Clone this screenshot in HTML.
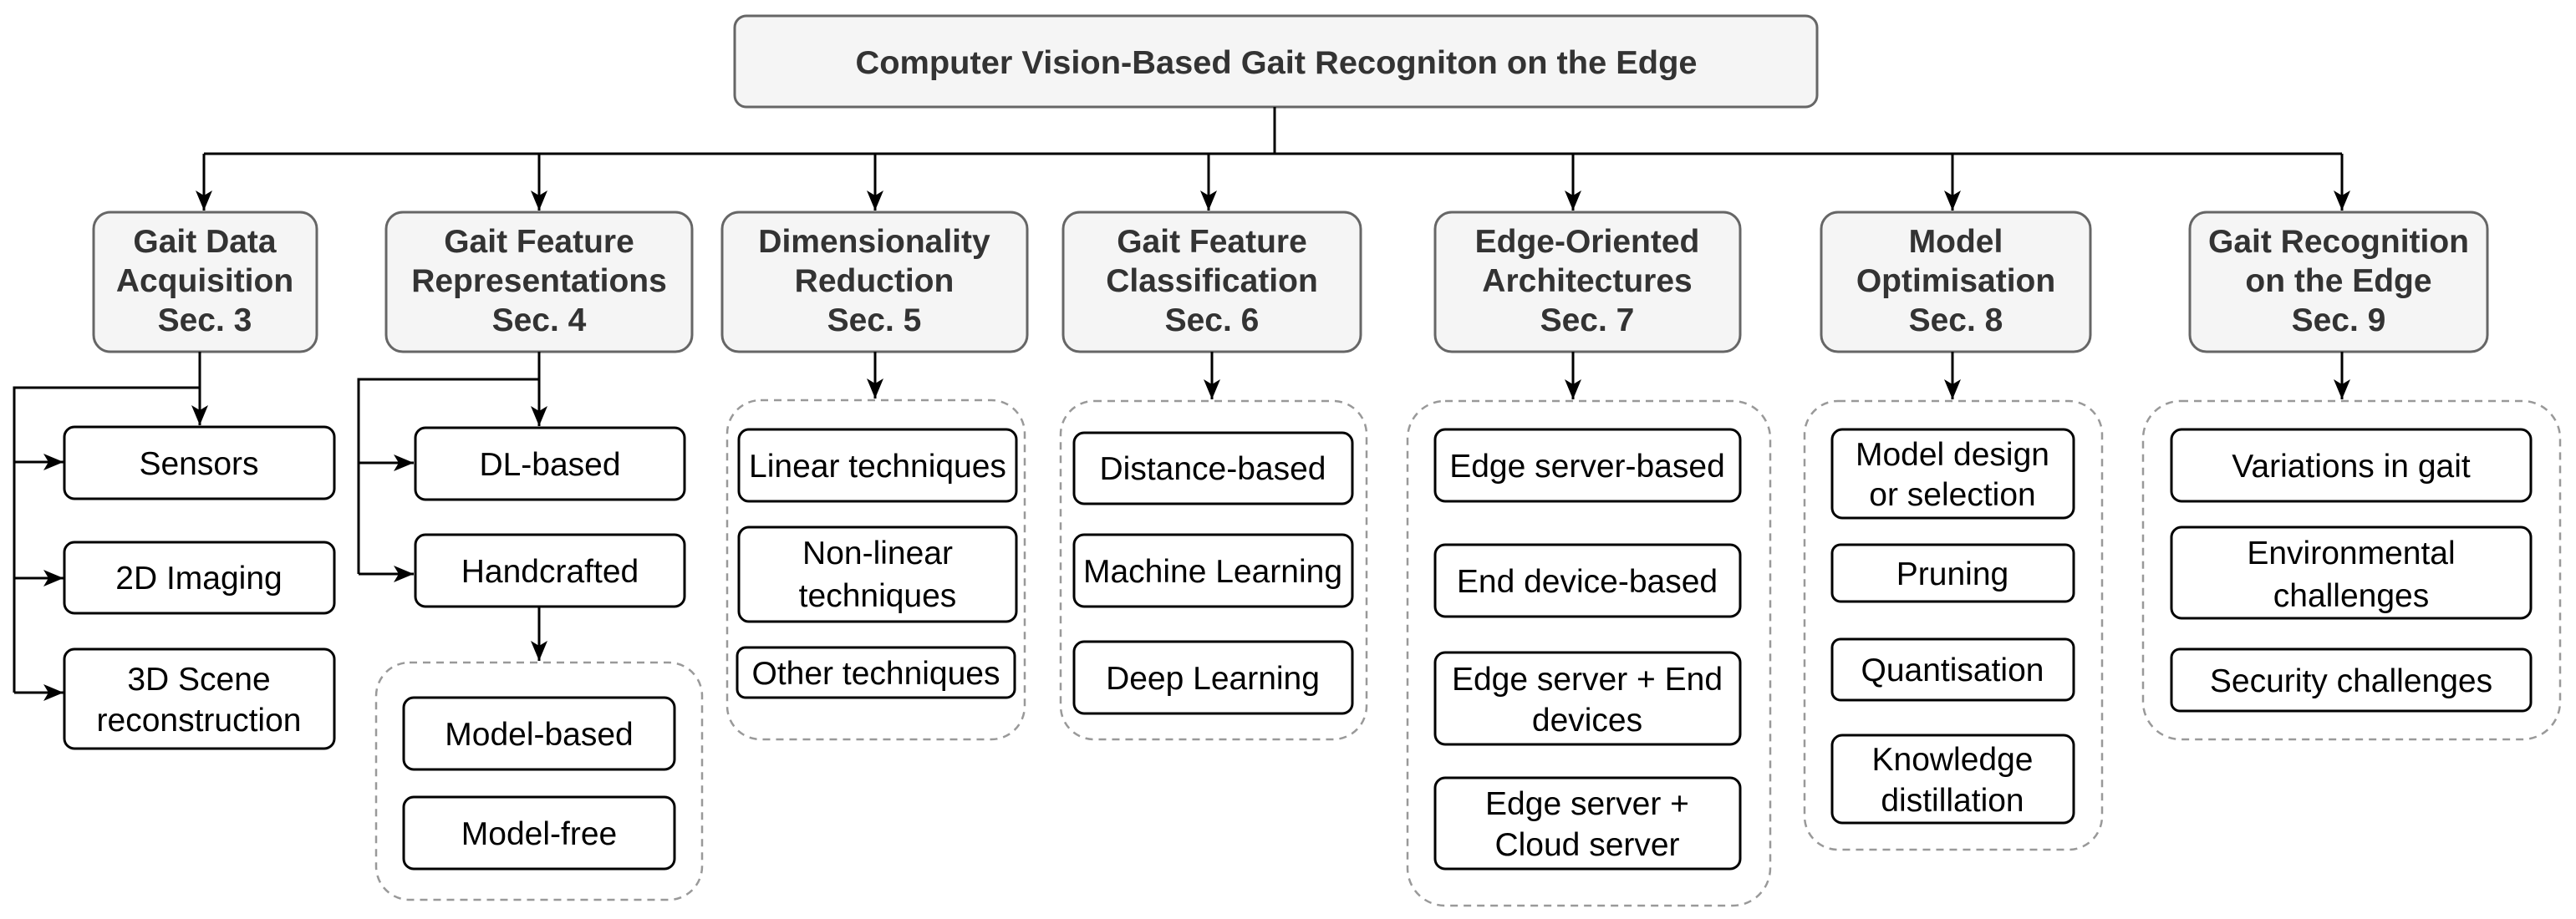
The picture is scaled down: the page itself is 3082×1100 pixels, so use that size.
<!DOCTYPE html>
<html><head><meta charset="utf-8"><style>
html,body{margin:0;padding:0;background:#fff;}
svg{display:block;}
text{font-family:"Liberation Sans",Arial,sans-serif;font-size:39px;text-anchor:middle;}
.s{font-weight:bold;fill:#333;}
.c{fill:#000;}
.box{fill:#fff;stroke:#000;stroke-width:3;}
.sec{fill:#f5f5f5;stroke:#666;stroke-width:3;}
.grp{fill:none;stroke:#999;stroke-width:2.5;stroke-dasharray:9 7;}
.ln{fill:none;stroke:#000;stroke-width:3;}
</style></head><body>
<svg width="3082" height="1100" viewBox="0 0 3082 1100" xmlns="http://www.w3.org/2000/svg">
<defs>
<marker id="a" markerUnits="userSpaceOnUse" markerWidth="26" markerHeight="22" refX="24" refY="10" orient="auto">
<path d="M0,0 L24,10 L0,20 L6,10 z" fill="#000"/>
</marker>
</defs>

<!-- top -->
<rect class="sec" x="879" y="19" width="1295" height="109" rx="14"/>
<text class="s" x="1527" y="88" textLength="1007" lengthAdjust="spacingAndGlyphs">Computer Vision-Based Gait Recogniton on the Edge</text>

<!-- bus -->
<path class="ln" d="M1525,128 V184"/>
<path class="ln" d="M244,184 H2802"/>
<path class="ln" d="M244,184 V252" marker-end="url(#a)"/>
<path class="ln" d="M645,184 V252" marker-end="url(#a)"/>
<path class="ln" d="M1047,184 V252" marker-end="url(#a)"/>
<path class="ln" d="M1446,184 V252" marker-end="url(#a)"/>
<path class="ln" d="M1882,184 V252" marker-end="url(#a)"/>
<path class="ln" d="M2336,184 V252" marker-end="url(#a)"/>
<path class="ln" d="M2802,184 V252" marker-end="url(#a)"/>

<!-- sections -->
<rect class="sec" x="112" y="254" width="267" height="167" rx="20"/>
<text class="s" x="245" y="302">Gait Data</text><text class="s" x="245" y="349">Acquisition</text><text class="s" x="245" y="396">Sec. 3</text>
<rect class="sec" x="462" y="254" width="366" height="167" rx="20"/>
<text class="s" x="645" y="302">Gait Feature</text><text class="s" x="645" y="349">Representations</text><text class="s" x="645" y="396">Sec. 4</text>
<rect class="sec" x="864" y="254" width="365" height="167" rx="20"/>
<text class="s" x="1046" y="302">Dimensionality</text><text class="s" x="1046" y="349">Reduction</text><text class="s" x="1046" y="396">Sec. 5</text>
<rect class="sec" x="1272" y="254" width="356" height="167" rx="20"/>
<text class="s" x="1450" y="302">Gait Feature</text><text class="s" x="1450" y="349">Classification</text><text class="s" x="1450" y="396">Sec. 6</text>
<rect class="sec" x="1717" y="254" width="365" height="167" rx="20"/>
<text class="s" x="1899" y="302">Edge-Oriented</text><text class="s" x="1899" y="349">Architectures</text><text class="s" x="1899" y="396">Sec. 7</text>
<rect class="sec" x="2179" y="254" width="322" height="167" rx="20"/>
<text class="s" x="2340" y="302">Model</text><text class="s" x="2340" y="349">Optimisation</text><text class="s" x="2340" y="396">Sec. 8</text>
<rect class="sec" x="2620" y="254" width="356" height="167" rx="20"/>
<text class="s" x="2798" y="302">Gait Recognition</text><text class="s" x="2798" y="349">on the Edge</text><text class="s" x="2798" y="396">Sec. 9</text>

<!-- col1 -->
<path class="ln" d="M239,421 V509" marker-end="url(#a)"/>
<path class="ln" d="M239,464 H17 V829"/>
<path class="ln" d="M17,553 H76" marker-end="url(#a)"/>
<path class="ln" d="M17,692 H76" marker-end="url(#a)"/>
<path class="ln" d="M17,829 H76" marker-end="url(#a)"/>
<rect class="box" x="77" y="511" width="323" height="86" rx="12"/><text class="c" x="238" y="568">Sensors</text>
<rect class="box" x="77" y="649" width="323" height="85" rx="12"/><text class="c" x="238" y="705">2D Imaging</text>
<rect class="box" x="77" y="777" width="323" height="119" rx="12"/><text class="c" x="238" y="826">3D Scene</text><text class="c" x="238" y="875">reconstruction</text>

<!-- col2 -->
<path class="ln" d="M645,421 V510" marker-end="url(#a)"/>
<path class="ln" d="M645,454 H429 V687"/>
<path class="ln" d="M429,554 H495" marker-end="url(#a)"/>
<path class="ln" d="M429,687 H495" marker-end="url(#a)"/>
<path class="ln" d="M645,726 V791" marker-end="url(#a)"/>
<rect class="box" x="497" y="512" width="322" height="86" rx="12"/><text class="c" x="658" y="569">DL-based</text>
<rect class="box" x="497" y="640" width="322" height="86" rx="12"/><text class="c" x="658" y="697">Handcrafted</text>
<rect class="grp" x="450" y="793" width="390" height="284" rx="40"/>
<rect class="box" x="483" y="835" width="324" height="86" rx="12"/><text class="c" x="645" y="892">Model-based</text>
<rect class="box" x="483" y="954" width="324" height="86" rx="12"/><text class="c" x="645" y="1011">Model-free</text>

<!-- col3 -->
<path class="ln" d="M1047,421 V477" marker-end="url(#a)"/>
<rect class="grp" x="870" y="479" width="356" height="406" rx="40"/>
<rect class="box" x="884" y="514" width="332" height="86" rx="12"/><text class="c" x="1050" y="571">Linear techniques</text>
<rect class="box" x="884" y="631" width="332" height="113" rx="12"/><text class="c" x="1050" y="675">Non-linear</text><text class="c" x="1050" y="726">techniques</text>
<rect class="box" x="882" y="775" width="332" height="60" rx="10"/><text class="c" x="1048" y="819">Other techniques</text>

<!-- col4 -->
<path class="ln" d="M1450,421 V478" marker-end="url(#a)"/>
<rect class="grp" x="1269" y="480" width="366" height="405" rx="40"/>
<rect class="box" x="1285" y="518" width="333" height="85" rx="12"/><text class="c" x="1451" y="574">Distance-based</text>
<rect class="box" x="1285" y="640" width="333" height="86" rx="12"/><text class="c" x="1451" y="697">Machine Learning</text>
<rect class="box" x="1285" y="768" width="333" height="86" rx="12"/><text class="c" x="1451" y="825">Deep Learning</text>

<!-- col5 -->
<path class="ln" d="M1882,421 V478" marker-end="url(#a)"/>
<rect class="grp" x="1684" y="480" width="434" height="604" rx="45"/>
<rect class="box" x="1717" y="514" width="365" height="86" rx="12"/><text class="c" x="1899" y="571">Edge server-based</text>
<rect class="box" x="1717" y="652" width="365" height="86" rx="12"/><text class="c" x="1899" y="709">End device-based</text>
<rect class="box" x="1717" y="781" width="365" height="110" rx="12"/><text class="c" x="1899" y="826">Edge server + End</text><text class="c" x="1899" y="875">devices</text>
<rect class="box" x="1717" y="931" width="365" height="109" rx="12"/><text class="c" x="1899" y="975">Edge server +</text><text class="c" x="1899" y="1024">Cloud server</text>

<!-- col6 -->
<path class="ln" d="M2336,421 V478" marker-end="url(#a)"/>
<rect class="grp" x="2159" y="480" width="356" height="537" rx="40"/>
<rect class="box" x="2192" y="514" width="289" height="106" rx="12"/><text class="c" x="2336" y="557">Model design</text><text class="c" x="2336" y="605">or selection</text>
<rect class="box" x="2192" y="652" width="289" height="68" rx="10"/><text class="c" x="2336" y="700">Pruning</text>
<rect class="box" x="2192" y="765" width="289" height="73" rx="10"/><text class="c" x="2336" y="815">Quantisation</text>
<rect class="box" x="2192" y="880" width="289" height="105" rx="12"/><text class="c" x="2336" y="922">Knowledge</text><text class="c" x="2336" y="971">distillation</text>

<!-- col7 -->
<path class="ln" d="M2802,421 V478" marker-end="url(#a)"/>
<rect class="grp" x="2564" y="480" width="499" height="405" rx="45"/>
<rect class="box" x="2598" y="514" width="430" height="86" rx="12"/><text class="c" x="2813" y="571">Variations in gait</text>
<rect class="box" x="2598" y="631" width="430" height="109" rx="12"/><text class="c" x="2813" y="675">Environmental</text><text class="c" x="2813" y="726">challenges</text>
<rect class="box" x="2598" y="777" width="430" height="74" rx="10"/><text class="c" x="2813" y="828">Security challenges</text>
</svg>
</body></html>
